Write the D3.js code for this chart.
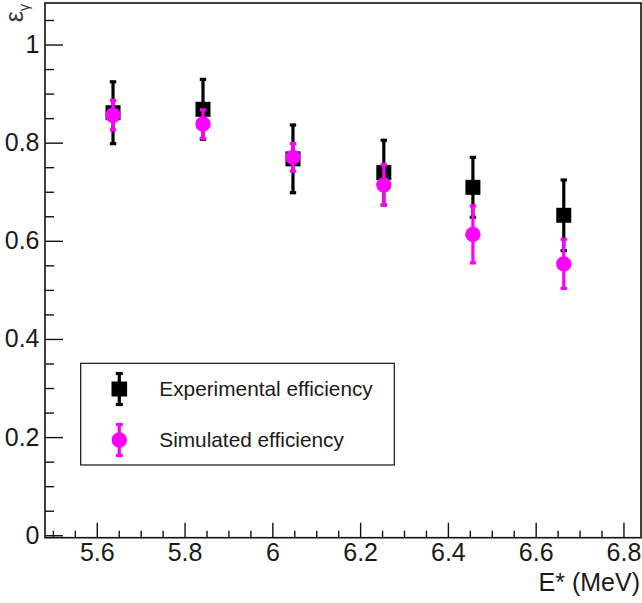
<!DOCTYPE html>
<html>
<head>
<meta charset="utf-8">
<script src="https://cdn.jsdelivr.net/npm/d3@7"></script>
<style>
  body { margin: 0; background: #fff; }
  svg { display: block; font-family: "Liberation Sans", Arial, sans-serif; }
</style>
</head>
<body>
<div id="chart"></div>
<script>
// Excitation energies (MeV)
const energies = [5.637, 5.842, 6.047, 6.254, 6.457, 6.664];
// Experimental efficiency and its error
const expEff = [0.861, 0.868, 0.767, 0.739, 0.709, 0.652];
const expErr = [0.063, 0.061, 0.069, 0.066, 0.061, 0.072];
// Simulated efficiency and its error
const simEff = [0.856, 0.838, 0.770, 0.714, 0.613, 0.553];
const simErr = [0.030, 0.029, 0.028, 0.041, 0.058, 0.050];

const xTicks = [5.6, 5.8, 6.0, 6.2, 6.4, 6.6, 6.8];
const yTicks = [0, 0.2, 0.4, 0.6, 0.8, 1];
const legendLabels = ["Experimental efficiency", "Simulated efficiency"];

const width = 642, height = 603;

const svg = d3.select('#chart').append('svg')
  .attr('width', width)
  .attr('height', height);

// Frame spans the ROOT-like pad
const x = d3.scaleLinear().domain([5.482, 6.84]).range([45, 641]);
const y = d3.scaleLinear().domain([-0.005, 1.0846]).range([537.7, 3]);

// minor ticks every 0.05
const xMinor = d3.range(5.5, 6.84, 0.05).map(d => +d.toFixed(2))
  .filter(d => !xTicks.some(t => Math.abs(t - d) < 1e-6));
const yMinor = d3.range(0, 1.08, 0.05).map(d => +d.toFixed(2))
  .filter(d => !yTicks.some(t => Math.abs(t - d) < 1e-6));

const fmt = d => String(+d.toFixed(2));

function styleAxis(g) {
  g.select('.domain').remove();
  g.selectAll('line').attr('stroke', '#111').attr('stroke-width', 1.4);
  g.selectAll('text')
    .attr('fill', '#1a1a1a')
    .style('font-size', '25px');
}

// X axis: major + minor, ticks pointing inside
svg.append('g')
  .attr('transform', `translate(0,${y.range()[0]})`)
  .call(d3.axisBottom(x).tickValues(xTicks).tickFormat(fmt).tickSizeInner(-15).tickSizeOuter(0).tickPadding(6))
  .call(styleAxis);
svg.append('g')
  .attr('transform', `translate(0,${y.range()[0]})`)
  .call(d3.axisBottom(x).tickValues(xMinor).tickFormat('').tickSizeInner(-7).tickSizeOuter(0))
  .call(styleAxis);

// Y axis
svg.append('g')
  .attr('transform', `translate(${x.range()[0]},0)`)
  .call(d3.axisLeft(y).tickValues(yTicks).tickFormat(fmt).tickSizeInner(-18).tickSizeOuter(0).tickPadding(5.5))
  .call(styleAxis);
svg.append('g')
  .attr('transform', `translate(${x.range()[0]},0)`)
  .call(d3.axisLeft(y).tickValues(yMinor).tickFormat('').tickSizeInner(-9).tickSizeOuter(0))
  .call(styleAxis);

// Frame
svg.append('rect')
  .attr('x', x.range()[0])
  .attr('y', y.range()[1])
  .attr('width', x.range()[1] - x.range()[0])
  .attr('height', y.range()[0] - y.range()[1])
  .attr('fill', 'none')
  .attr('stroke', '#111')
  .attr('stroke-width', 1.6);

// Axis titles
svg.append('text')
  .attr('x', 640)
  .attr('y', 591)
  .attr('text-anchor', 'end')
  .attr('fill', '#1a1a1a')
  .style('font-size', '25px')
  .text('E* (MeV)');

const yTitle = svg.append('text')
  .attr('transform', 'translate(23,4) rotate(-90)')
  .attr('text-anchor', 'end')
  .attr('fill', '#333')
  .style('font-size', '25px');
yTitle.append('tspan').text('ε');
yTitle.append('tspan').attr('dy', 6).style('font-size', '14px').text('γ');

// Draw one series with error bars and markers
function drawSeries(vals, errs, color, shape) {
  const g = svg.append('g');
  const pts = energies.map((e, i) => ({e, v: vals[i], err: errs[i]}));

  g.selectAll('line.bar').data(pts).join('line')
    .attr('x1', d => x(d.e)).attr('x2', d => x(d.e))
    .attr('y1', d => y(d.v + d.err)).attr('y2', d => y(d.v - d.err))
    .attr('stroke', color).attr('stroke-width', 3.2);

  // caps
  [1, -1].forEach(s => {
    g.selectAll(null).data(pts).join('line')
      .attr('x1', d => x(d.e) - 3.2).attr('x2', d => x(d.e) + 3.2)
      .attr('y1', d => y(d.v + s * d.err)).attr('y2', d => y(d.v + s * d.err))
      .attr('stroke', color).attr('stroke-width', 3.2);
  });

  if (shape === 'square') {
    g.selectAll('rect').data(pts).join('rect')
      .attr('x', d => x(d.e) - 7.5).attr('y', d => y(d.v) - 7.5)
      .attr('width', 15).attr('height', 15)
      .attr('fill', color);
  } else {
    g.selectAll('circle').data(pts).join('circle')
      .attr('cx', d => x(d.e)).attr('cy', d => y(d.v))
      .attr('r', 7.7)
      .attr('fill', color);
  }
}

drawSeries(expEff, expErr, '#000', 'square');
drawSeries(simEff, simErr, '#ff00ff', 'circle');

// Legend
const legend = svg.append('g');
legend.append('rect')
  .attr('x', 80.7).attr('y', 363.3)
  .attr('width', 313.6).attr('height', 101.7)
  .attr('fill', '#fff')
  .attr('stroke', '#111').attr('stroke-width', 1.2);

const legendItems = [
  {label: legendLabels[0], color: '#000', shape: 'square', cy: 389},
  {label: legendLabels[1], color: '#ff00ff', shape: 'circle', cy: 440}
];
legendItems.forEach(it => {
  const cx = 119.3;
  legend.append('line')
    .attr('x1', cx).attr('x2', cx)
    .attr('y1', it.cy - 15.5).attr('y2', it.cy + 15.5)
    .attr('stroke', it.color).attr('stroke-width', 3.2);
  [-15.5, 15.5].forEach(o => {
    legend.append('line')
      .attr('x1', cx - 3.5).attr('x2', cx + 3.5)
      .attr('y1', it.cy + o).attr('y2', it.cy + o)
      .attr('stroke', it.color).attr('stroke-width', 3.2);
  });
  if (it.shape === 'square') {
    legend.append('rect')
      .attr('x', cx - 7.8).attr('y', it.cy - 7.5)
      .attr('width', 15.6).attr('height', 15)
      .attr('fill', it.color);
  } else {
    legend.append('circle')
      .attr('cx', cx).attr('cy', it.cy).attr('r', 7.7)
      .attr('fill', it.color);
  }
  legend.append('text')
    .attr('x', 159.3)
    .attr('y', it.cy + 7)
    .attr('fill', '#1a1a1a')
    .style('font-size', '20.8px')
    .text(it.label);
});
</script>
</body>
</html>
